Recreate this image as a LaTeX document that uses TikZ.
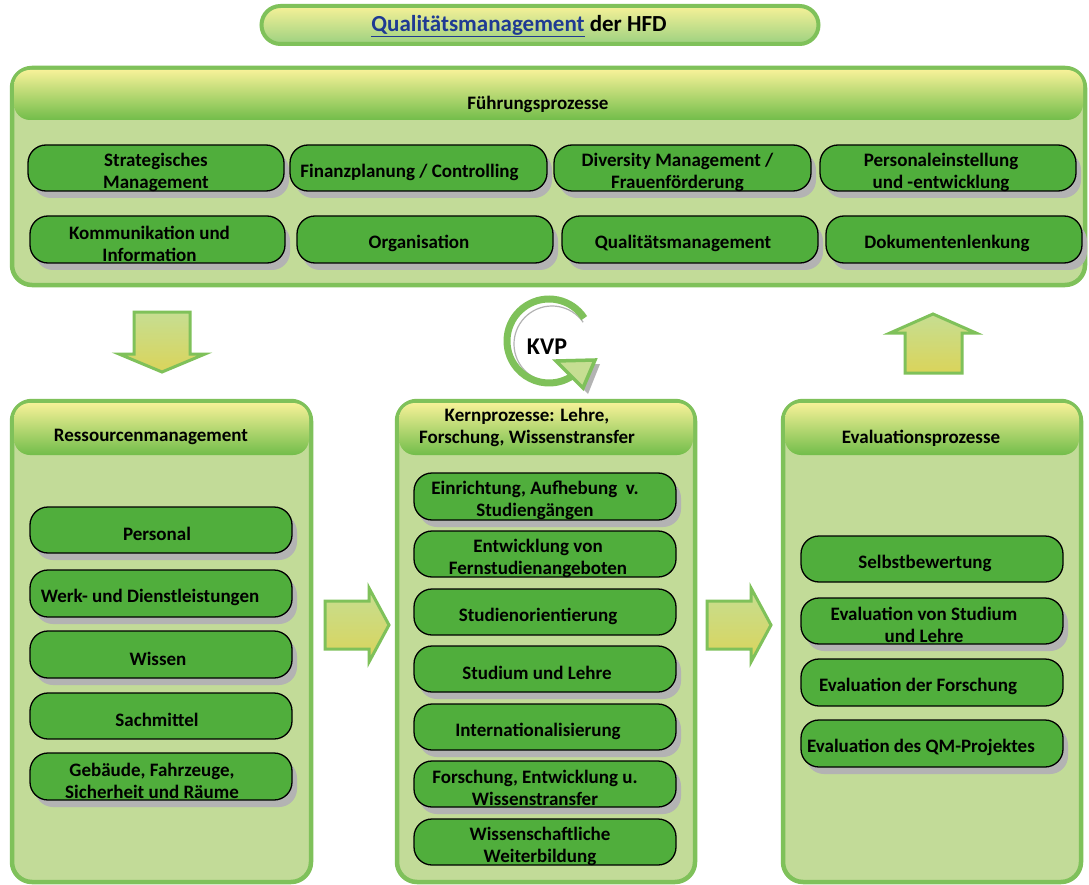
\documentclass[tikz,border=0pt]{standalone}
\usepackage{fontspec}
\setmainfont{Carlito}
\definecolor{bord}{HTML}{7FC15A}
\definecolor{bodyc}{HTML}{C2DB98}
\definecolor{itemc}{HTML}{50AE3C}
\definecolor{shad}{HTML}{B3B3B3}
\definecolor{hdtop}{HTML}{F6F198}
\definecolor{hdmid}{HTML}{C5DF88}
\definecolor{hdbot}{HTML}{72BD4A}
\definecolor{qmblue}{HTML}{1F3A93}
\definecolor{arrtop}{HTML}{C6DE92}
\definecolor{arrbot}{HTML}{DAD45A}
\tikzset{
  itembox/.style={rectangle,draw=black,line width=1.3pt,fill=itemc,rounded corners=18pt,inner sep=0pt},
  itemtext/.style={font=\bfseries\fontsize{19}{22}\selectfont,align=center,text=black,inner sep=0pt},
  panel/.style={rectangle,draw=bord,line width=4.5pt,fill=bodyc,rounded corners=20pt,inner sep=0pt},
  header/.style={rounded corners=16pt,top color=hdtop,middle color=hdmid,bottom color=hdbot},
  headtext/.style={font=\bfseries\fontsize{19}{22}\selectfont,align=center,text=black,inner sep=0pt},
  blockarrow/.style={draw=bord,line width=3pt,top color=arrtop,bottom color=arrbot,line join=miter},
}
\newcommand\QItem[8]{%
  \pgfmathsetmacro\qw{#4-#2}\pgfmathsetmacro\qh{#5-#3}%
  \pgfmathsetmacro\qx{(#2+#4)/2}\pgfmathsetmacro\qy{(#3+#5)/2}%
  \ifnum#6=1 \fill[shad,rounded corners=18pt] (#2+5,#3+7) rectangle (#4+5,#5+7);\fi
  \node[itembox,minimum width=\qw pt,minimum height=\qh pt] (#1) at (\qx,\qy) {};
  \node[itemtext] (#1t) at ([xshift=#7pt,yshift=-4pt]#1.center) {#8};
}
\newcommand\QPanel[6]{%
  \pgfmathsetmacro\qw{#4-#2}\pgfmathsetmacro\qh{#5-#3}%
  \pgfmathsetmacro\qx{(#2+#4)/2}\pgfmathsetmacro\qy{(#3+#5)/2}%
  \node[panel,minimum width=\qw pt,minimum height=\qh pt] (#1) at (\qx,\qy) {};
  \path[header] (#2+2,#3+2) rectangle (#4-2,#6);
}
\begin{document}
\begin{tikzpicture}[x=1pt,y=-1pt]
\useasboundingbox (0,0) rectangle (1089,885);
\fill[white] (0,0) rectangle (1089,885);

% title
\node[rectangle,draw=bord,line width=4pt,rounded corners=19pt,top color=hdtop,middle color=hdmid!80!white,bottom color=hdbot!70!white,minimum width=557pt,minimum height=38pt] (title) at (540,25) {};
\node[font=\bfseries\fontsize{23}{26}\selectfont,inner sep=0pt] (titlet) at ([xshift=-21pt,yshift=-1pt]title.center) {\textcolor{qmblue}{\underline{Qualitätsmanagement}} der HFD};

% Fuehrungsprozesse
\QPanel{fp}{12}{68}{1085}{285}{120}
\node[headtext] (fpt) at (538,104) {Führungsprozesse};
\QItem{f1}{28}{145}{284}{191}{1}{0}{Strategisches\\Management}
\QItem{f2}{290}{145}{547}{191}{1}{-9}{Finanzplanung / Controlling}
\QItem{f3}{554}{145}{811}{191}{1}{-5}{Diversity Management /\\Frauenförderung}
\QItem{f4}{820}{145}{1076}{191}{1}{-7}{Personaleinstellung\\und -entwicklung}
\QItem{f5}{30}{216}{285}{263}{1}{-8}{Kommunikation und\\Information}
\QItem{f6}{297}{216}{553}{263}{1}{-6}{Organisation}
\QItem{f7}{562}{216}{818}{263}{1}{-7}{Qualitätsmanagement}
\QItem{f8}{826}{216}{1082}{263}{1}{-7}{Dokumentenlenkung}

% arrows
\path[blockarrow] (134,312) -- (190,312) -- (190,354) -- (205,354) -- (162,372) -- (119,354) -- (134,354) -- cycle;
\path[blockarrow] (905,373) -- (962,373) -- (962,333) -- (976,333) -- (933,314) -- (890,333) -- (905,333) -- cycle;
\path[blockarrow] (325,601) -- (369,601) -- (369,588) -- (389,625) -- (369,662) -- (369,649) -- (325,649) -- cycle;
\path[blockarrow] (707,601) -- (751,601) -- (751,588) -- (771,625) -- (751,662) -- (751,649) -- (707,649) -- cycle;

% KVP
\draw[shad,line width=1.2pt] (552,344) ++(-35:38) arc[start angle=-35,end angle=-290,radius=38];
\draw[bord,line width=7pt] (549,341) ++(-33:42) arc[start angle=-33,end angle=-308,radius=42];
\fill[shad] (560,365) -- (600,364) -- (588,394) -- cycle;
\draw[bord,line width=3.5pt,fill=arrtop,line join=miter] (556,361) -- (595,360) -- (583,388) -- cycle;
\node[font=\bfseries\fontsize{24}{26}\selectfont,inner sep=0pt] (kvp) at (547,347) {KVP};

% Ressourcen
\QPanel{rm}{12}{401}{311}{882}{455}
\node[headtext] (rmt) at (151,437) {Ressourcenmanagement};
\QItem{r1}{30}{507}{292}{553}{1}{-4}{Personal}
\QItem{r2}{30}{570}{292}{617}{1}{-11}{Werk- und Dienstleistungen}
\QItem{r3}{30}{631}{292}{678}{1}{-3}{Wissen}
\QItem{r4}{30}{693}{292}{739}{0}{-4}{Sachmittel}
\QItem{r5}{30}{753}{292}{800}{1}{-9}{Gebäude, Fahrzeuge,\\Sicherheit und Räume}

% Kern
\QPanel{kp}{397}{401}{695}{882}{455}
\node[headtext] (kpt) at (527,427) {Kernprozesse: Lehre,\\Forschung, Wissenstransfer};
\QItem{k1}{414}{473}{676}{520}{1}{-10}{Einrichtung, Aufhebung\ \ v.\\Studiengängen}
\QItem{k2}{414}{531}{676}{577}{0}{-7}{Entwicklung von\\Fernstudienangeboten}
\QItem{k3}{414}{589}{676}{635}{0}{-7}{Studienorientierung}
\QItem{k4}{414}{646}{676}{692}{1}{-8}{Studium und Lehre}
\QItem{k5}{414}{704}{676}{750}{1}{-7}{Internationalisierung}
\QItem{k6}{414}{761}{676}{807}{1}{-10}{Forschung, Entwicklung u.\\Wissenstransfer}
\QItem{k7}{414}{819}{676}{865}{0}{-5}{Wissenschaftliche\\Weiterbildung}

% Evaluation
\QPanel{ep}{783}{401}{1081}{882}{455}
\node[headtext] (ept) at (921,438) {Evaluationsprozesse};
\QItem{e1}{801}{536}{1063}{582}{0}{-7}{Selbstbewertung}
\QItem{e2}{801}{598}{1063}{644}{1}{-8}{Evaluation von Studium\\und Lehre}
\QItem{e3}{801}{659}{1063}{706}{0}{-14}{Evaluation der Forschung}
\QItem{e4}{801}{720}{1063}{767}{1}{-11}{Evaluation des QM-Projektes}
\end{tikzpicture}
\end{document}
